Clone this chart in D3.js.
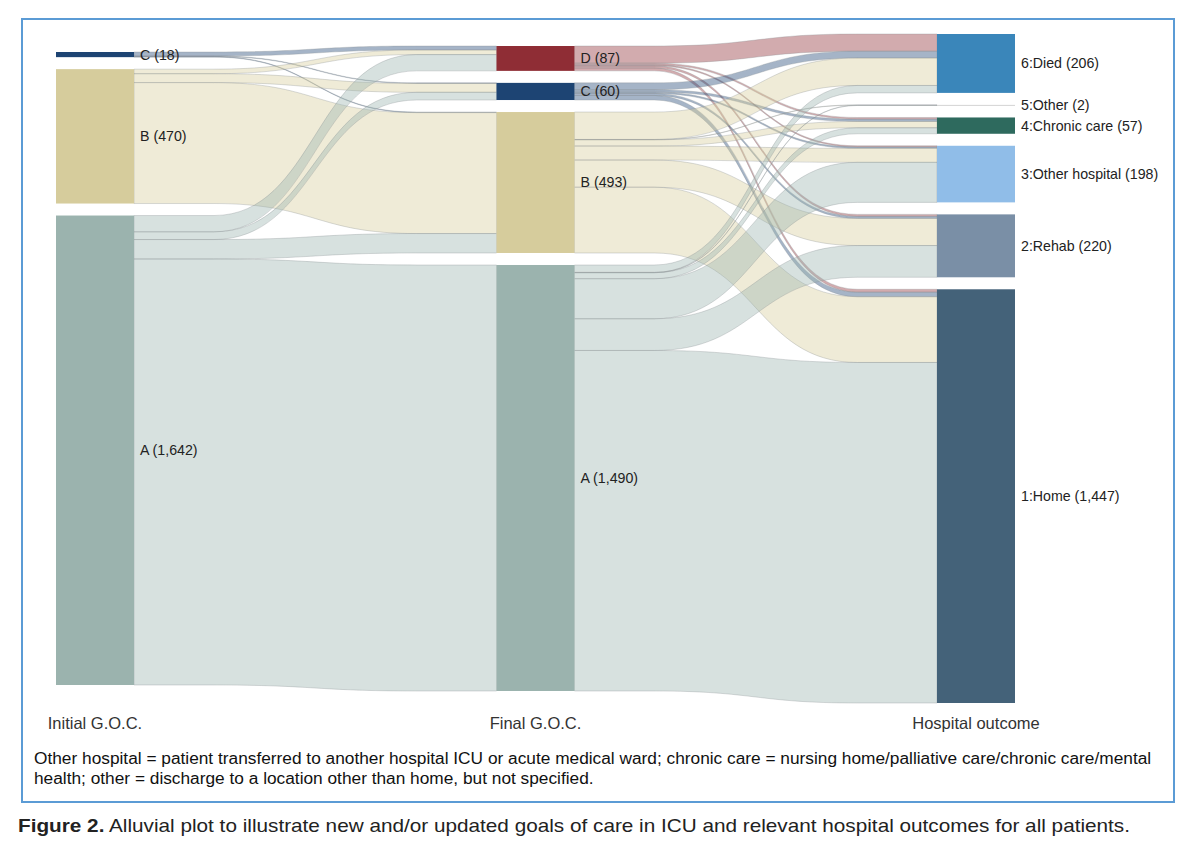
<!DOCTYPE html>
<html>
<head>
<meta charset="utf-8">
<script src="https://cdn.jsdelivr.net/npm/d3@7"></script>
<style>
body { margin: 0; background: #fff; }
text { font-family: "Liberation Sans", Arial, sans-serif; }
</style>
</head>
<body>
<script>
// axes and strata (top to bottom)
const axes = ['Initial G.O.C.', 'Final G.O.C.', 'Hospital outcome'];
const initialGoc = ['C', 'B', 'A'];
const finalGoc = ['D', 'C', 'B', 'A'];
const outcomes = ['6:Died', '5:Other', '4:Chronic care', '3:Other hospital', '2:Rehab', '1:Home'];

const initialCounts = [18, 470, 1642];
const finalCounts = [87, 60, 493, 1490];
const outcomeCounts = [206, 2, 57, 198, 220, 1447];

const initialColors = ['#1d4473', '#d6cc9c', '#9bb3ae'];
const finalColors = ['#8f2d35', '#1d4473', '#d6cc9c', '#9bb3ae'];
const outcomeColors = ['#3a86ba', '#c8c8c8', '#2e6a5e', '#90bde8', '#7a8fa6', '#446279'];

// flows: [from, to, patients]
const initToFinal = [
    ['C', 'D', 14], ['C', 'C', 2], ['C', 'B', 2],
    ['B', 'D', 16], ['B', 'C', 31], ['B', 'B', 423],
    ['A', 'D', 57], ['A', 'C', 27], ['A', 'B', 68], ['A', 'A', 1490],
];
const finalToOutcome = [
    ['D', '6:Died', 60], ['D', '4:Chronic care', 6], ['D', '3:Other hospital', 4], ['D', '2:Rehab', 7], ['D', '1:Home', 10],
    ['C', '6:Died', 24], ['C', '4:Chronic care', 8], ['C', '3:Other hospital', 5], ['C', '2:Rehab', 7], ['C', '1:Home', 16],
    ['B', '6:Died', 96], ['B', '5:Other', 1], ['B', '4:Chronic care', 22], ['B', '3:Other hospital', 49], ['B', '2:Rehab', 95], ['B', '1:Home', 230],
    ['A', '6:Died', 26], ['A', '5:Other', 1], ['A', '4:Chronic care', 21], ['A', '3:Other hospital', 140], ['A', '2:Rehab', 111], ['A', '1:Home', 1191],
];

const noteLines = [
    'Other hospital = patient transferred to another hospital ICU or acute medical ward; chronic care = nursing home/palliative care/chronic care/mental',
    'health; other = discharge to a location other than home, but not specified.',
];
const captionBold = 'Figure 2.';
const captionText = ' Alluvial plot to illustrate new and/or updated goals of care in ICU and relevant hospital outcomes for all patients.';

function ribbon(x0, x1, t0, b0, t1, b1, flat=0.22) {
    const w = x1 - x0;
    const xa = x0 + w * flat, xb = x1 - w * flat, xm = (xa + xb) / 2;
    return `M${x0},${t0}L${xa},${t0}C${xm},${t0} ${xm},${t1} ${xb},${t1}L${x1},${t1}`
        + `L${x1},${b1}L${xb},${b1}C${xm},${b1} ${xm},${b0} ${xa},${b0}L${x0},${b0}Z`;
}

function makeChart(svg) {
    const columns = [
        {names: initialGoc, counts: initialCounts, colors: initialColors},
        {names: finalGoc, counts: finalCounts, colors: finalColors},
        {names: outcomes, counts: outcomeCounts, colors: outcomeColors},
    ];
    const nodeW = 78, gap = 12, plotTop = 34, plotBottom = 703;
    const maxN = d3.max(columns, c => c.names.length);
    const total = d3.sum(initialCounts);

    const scX = d3.scalePoint().domain(axes).range([95, 976]);
    const scH = d3.scaleLinear().domain([0, total])
        .range([0, plotBottom - plotTop - gap * (maxN - 1)]);
    const midY = (plotTop + plotBottom) / 2;

    // stack nodes, centred on the same middle line
    columns.forEach((c, ci) => {
        const colH = scH(total) + gap * (c.names.length - 1);
        let y = midY - colH / 2;
        c.nodes = c.names.map((n, i) => {
            const node = {
                name: n, value: c.counts[i], color: c.colors[i], idx: i,
                x: scX(axes[ci]), y0: y, y1: y + scH(c.counts[i]),
                outY: y, inY: y,
            };
            y = node.y1 + gap;
            return node;
        });
        c.byName = new Map(c.nodes.map(d => [d.name, d]));
    });

    const segments = [
        {from: columns[0], to: columns[1], data: initToFinal},
        {from: columns[1], to: columns[2], data: finalToOutcome},
    ];

    const gLinks = svg.append('g');
    segments.forEach(seg => {
        const links = seg.data.map(d => ({
            src: seg.from.byName.get(d[0]), tgt: seg.to.byName.get(d[1]), value: d[2],
        }));
        // outgoing order: by target; incoming order: by source
        d3.sort(links, l => l.src.idx, l => l.tgt.idx).forEach(l => {
            l.t0 = l.src.outY; l.src.outY += scH(l.value); l.b0 = l.src.outY;
        });
        d3.sort(links, l => l.tgt.idx, l => l.src.idx).forEach(l => {
            l.t1 = l.tgt.inY; l.tgt.inY += scH(l.value); l.b1 = l.tgt.inY;
        });
        gLinks.selectAll(null)
            .data(links)
            .enter()
            .append('path')
            .attr('d', l => ribbon(l.src.x + nodeW / 2, l.tgt.x - nodeW / 2, l.t0, l.b0, l.t1, l.b1))
            .attr('fill', l => l.src.color)
            .attr('fill-opacity', 0.4)
            .attr('stroke', '#8a8f94')
            .attr('stroke-opacity', 0.45)
            .attr('stroke-width', 0.7);
    });

    const allNodes = columns.flatMap(c => c.nodes);
    svg.append('g')
        .selectAll('rect')
        .data(allNodes)
        .enter()
        .append('rect')
        .attr('x', d => d.x - nodeW / 2)
        .attr('y', d => d.y0)
        .attr('width', nodeW)
        .attr('height', d => Math.max(d.y1 - d.y0, 0.8))
        .attr('fill', d => d.color);

    const fmt = d3.format(',');
    svg.append('g')
        .selectAll('text')
        .data(allNodes)
        .enter()
        .append('text')
        .attr('x', d => d.x + nodeW / 2 + 6)
        .attr('y', d => (d.y0 + d.y1) / 2)
        .attr('dy', '0.35em')
        .attr('font-size', 14.2)
        .attr('fill', '#222')
        .text(d => `${d.name} (${fmt(d.value)})`);

    svg.append('g')
        .selectAll('text')
        .data(axes)
        .enter()
        .append('text')
        .attr('x', d => scX(d))
        .attr('y', 729)
        .attr('text-anchor', 'middle')
        .attr('font-size', 16.5)
        .attr('fill', '#333')
        .text(d => d);
}

function main() {
    const svg = d3.select('body')
        .append('svg')
        .attr('width', 1200)
        .attr('height', 854);

    svg.append('rect')
        .attr('x', 22).attr('y', 19)
        .attr('width', 1152).attr('height', 783)
        .attr('fill', 'none')
        .attr('stroke', '#5b9bd5')
        .attr('stroke-width', 2);

    makeChart(svg);

    svg.append('g')
        .selectAll('text')
        .data(noteLines)
        .enter()
        .append('text')
        .attr('x', 34)
        .attr('y', (d, i) => 764 + i * 20)
        .attr('font-size', 17.3)
        .attr('fill', '#111')
        .text(d => d);

    const cap = svg.append('text')
        .attr('x', 18)
        .attr('y', 832)
        .attr('font-size', 18.5)
        .attr('fill', '#222')
        .attr('textLength', 1112)
        .attr('lengthAdjust', 'spacingAndGlyphs');
    cap.append('tspan').attr('font-weight', 'bold').text(captionBold);
    cap.append('tspan').text(captionText);
}

main();
</script>
</body>
</html>
